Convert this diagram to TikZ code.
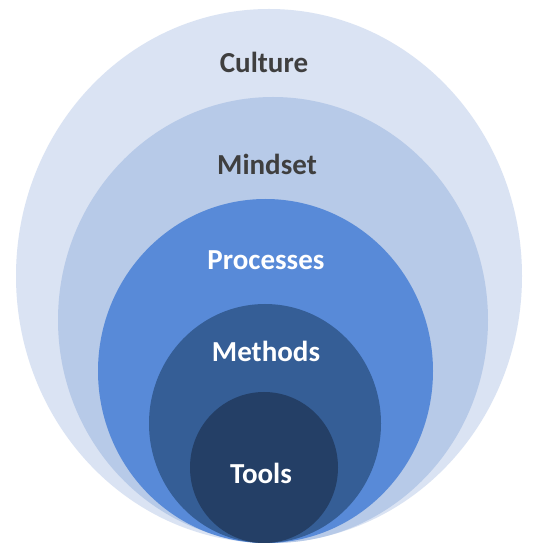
\documentclass[tikz,border=0pt]{standalone}
\usepackage{fontspec}
\setmainfont{Carlito}
\usetikzlibrary{shapes.geometric}
\definecolor{cCulture}{HTML}{DAE3F3}
\definecolor{cMindset}{HTML}{B7CAE8}
\definecolor{cProc}{HTML}{588AD8}
\definecolor{cMeth}{HTML}{355E96}
\definecolor{cTools}{HTML}{243F66}
\definecolor{cDark}{HTML}{3F3F3F}
\tikzset{
  ring/.style={ellipse, draw=none, inner sep=0pt, outer sep=0pt},
  lbl/.style={font=\fontsize{29}{32}\selectfont\bfseries, inner sep=0pt, anchor=center},
}
\begin{document}
\begin{tikzpicture}[x=1pt,y=1pt]
\useasboundingbox[fill=white] (0,0) rectangle (542,544);
\node[ring, fill=cCulture, minimum width=506, minimum height=534] (culture) at (269,268) {};
\node[ring, fill=cMindset, minimum width=430, minimum height=446] (mindset) at (273,224) {};
\node[ring, fill=cProc, minimum width=335, minimum height=344] (proc) at (265.5,173) {};
\node[ring, fill=cMeth, minimum width=232, minimum height=239] (meth) at (265,120.5) {};
\node[ring, fill=cTools, minimum width=148, minimum height=151] (tools) at (264,76.5) {};
\node[lbl, text=cDark] (tculture) at (264,482) {Culture};
\node[lbl, text=cDark] (tmindset) at (267,380) {Mindset};
\node[lbl, text=white] (tproc) at (266,284) {Processes};
\node[lbl, text=white] (tmeth) at (266,193) {Methods};
\node[lbl, text=white] (ttools) at (261,71) {Tools};
\end{tikzpicture}
\end{document}
